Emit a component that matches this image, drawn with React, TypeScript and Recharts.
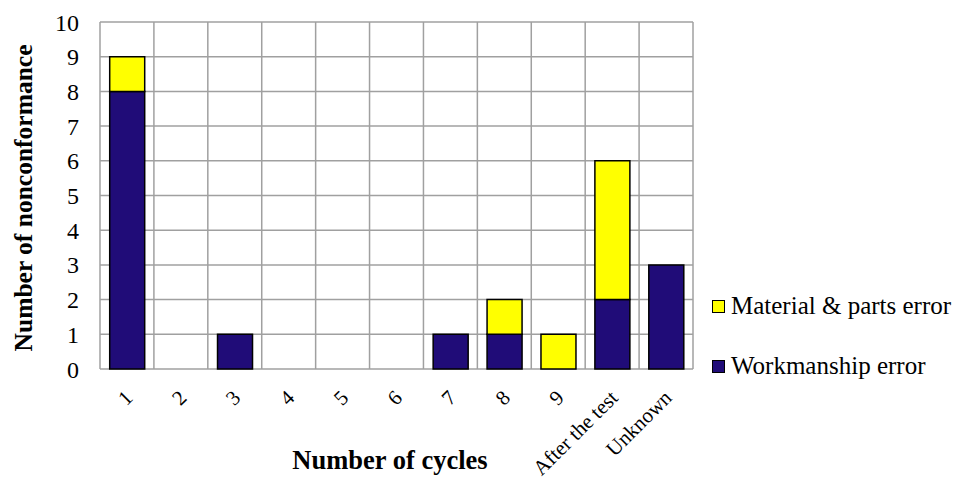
import { Bar, BarChart, CartesianGrid, Label, XAxis, YAxis } from 'recharts'

const categories = ['1', '2', '3', '4', '5', '6', '7', '8', '9', 'After the test', 'Unknown']
const workmanship = [8, 0, 1, 0, 0, 0, 1, 1, 0, 2, 3]
const material = [1, 0, 0, 0, 0, 0, 0, 1, 1, 4, 0]
const yTicks = [0, 1, 2, 3, 4, 5, 6, 7, 8, 9, 10]

const data = categories.map((c, i) => ({
  cycle: c,
  workmanship: workmanship[i],
  material: material[i],
}))

const FONT = '"Liberation Serif", "Times New Roman", serif'
const NAVY = '#200c78'
const YELLOW = '#ffff00'
const GRID = '#a0a0a0'

const legendItems = [
  { label: 'Material & parts error', color: YELLOW, y: 306 },
  { label: 'Workmanship error', color: NAVY, y: 366 },
]

function CycleTick({ x, y, payload }: any) {
  const tx = x + 7
  const ty = y + 22
  return (
    <text
      x={tx}
      y={ty}
      transform={`rotate(-45, ${tx}, ${ty})`}
      textAnchor="end"
      fontFamily={FONT}
      fontSize={21}
      fill="#000"
    >
      {payload.value}
    </text>
  )
}

// legend sits to the right of the plot, next to the lower grid rows
function SideLegend() {
  return (
    <>
      {legendItems.map((it) => (
        <div
          key={it.label}
          style={{
            position: 'absolute',
            left: 712,
            top: it.y - 15,
            height: 30,
            display: 'flex',
            alignItems: 'center',
            fontFamily: FONT,
            fontSize: 25,
            color: '#000',
            whiteSpace: 'nowrap',
          }}
        >
          <span
            style={{
              display: 'inline-block',
              width: 11,
              height: 11,
              background: it.color,
              border: '1.5px solid #000',
              marginRight: 6,
            }}
          />
          {it.label}
        </div>
      ))}
    </>
  )
}

export default function App() {
  return (
    <div style={{ position: 'absolute', left: 0, top: 0, width: 954, height: 492, background: '#fff' }}>
      <BarChart
        width={954}
        height={492}
        data={data}
        margin={{ top: 22, right: 261, bottom: 0, left: 40 }}
        barCategoryGap="18%"
      >
        <CartesianGrid
          stroke={GRID}
          strokeWidth={1.5}
          verticalCoordinatesGenerator={({ offset }: any) =>
            categories.map((_, i) => offset.left + (i * offset.width) / categories.length).concat(offset.left + offset.width)
          }
        />
        <XAxis
          dataKey="cycle"
          height={123}
          interval={0}
          axisLine={false}
          tickLine={false}
          tick={<CycleTick />}
        >
          <Label
            content={() => (
              <text x={390} y={469} textAnchor="middle" fontFamily={FONT} fontSize={26.5} fontWeight="bold" fill="#000">
                Number of cycles
              </text>
            )}
          />
        </XAxis>
        <YAxis
          width={60}
          domain={[0, 10]}
          ticks={yTicks}
          interval={0}
          axisLine={false}
          tickLine={false}
          tickSize={0}
          tickMargin={21}
          tick={{ fontFamily: FONT, fontSize: 24, fill: '#000' }}
        >
          <Label
            content={() => (
              <text
                x={32}
                y={198}
                transform="rotate(-90, 32, 198)"
                textAnchor="middle"
                fontFamily={FONT}
                fontSize={25.5}
                fontWeight="bold"
                fill="#000"
              >
                Number of nonconformance
              </text>
            )}
          />
        </YAxis>
        <Bar dataKey="workmanship" name="Workmanship error" stackId="a" fill={NAVY} stroke="#000" strokeWidth={1.5} isAnimationActive={false} />
        <Bar dataKey="material" name="Material & parts error" stackId="a" fill={YELLOW} stroke="#000" strokeWidth={1.5} isAnimationActive={false} />
      </BarChart>
      <SideLegend />
    </div>
  )
}
